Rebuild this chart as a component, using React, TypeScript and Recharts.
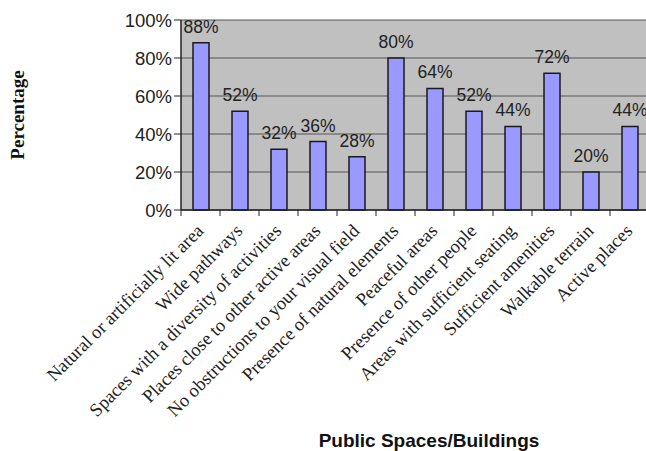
import React from "react";
import {
  BarChart,
  Bar,
  XAxis,
  YAxis,
  CartesianGrid,
  LabelList,
  Label,
} from "recharts";

const categories = [
  "Natural or artificially lit area",
  "Wide pathways",
  "Spaces with a diversity of activities",
  "Places close to other active areas",
  "No obstructions to your visual field",
  "Presence of natural elements",
  "Peaceful areas",
  "Presence of other people",
  "Areas with sufficient seating",
  "Sufficient amenities",
  "Walkable terrain",
  "Active places",
];

const percentages = [88, 52, 32, 36, 28, 80, 64, 52, 44, 72, 20, 44];

const yTicks = [0, 20, 40, 60, 80, 100];

const data = categories.map((name, i) => ({ name, value: percentages[i] }));

const SERIF = "'Liberation Serif', 'Times New Roman', serif";
const SANS = "'Liberation Sans', Arial, sans-serif";

function CategoryTick(props: any) {
  const { x, y, payload, index } = props;
  const half = payload?.offset ?? 19.5;
  const last = index === categories.length - 1;
  return (
    <g>
      <line x1={x - half} y1={y - 8} x2={x - half} y2={y - 2} stroke="#222" />
      {last && (
        <line x1={x + half} y1={y - 8} x2={x + half} y2={y - 2} stroke="#222" />
      )}
      <text
        x={x + 4}
        y={y + 14}
        textAnchor="end"
        fontFamily={SERIF}
        fontSize={18.5}
        fill="#222"
        transform={`rotate(-45, ${x + 4}, ${y + 14})`}
      >
        {payload.value}
      </text>
    </g>
  );
}

function YTitle(props: any) {
  const vb = props.viewBox || {};
  const cx = 20;
  const cy = (vb.y ?? 20) + (vb.height ?? 190) / 2;
  return (
    <text
      x={cx}
      y={cy}
      textAnchor="middle"
      dominantBaseline="middle"
      fontFamily={SERIF}
      fontWeight="bold"
      fontSize={19}
      fill="#111"
      transform={`rotate(-90, ${cx}, ${cy})`}
    >
      Percentage
    </text>
  );
}

export default function App() {
  return (
    <div
      style={{
        position: "absolute",
        left: 0,
        top: 0,
        width: 646,
        height: 451,
        overflow: "hidden",
        background: "#fff",
      }}
    >
      <BarChart
        width={649}
        height={451}
        data={data}
        margin={{ top: 20, right: 0, bottom: 0, left: 0 }}
        barCategoryGap={0}
      >
        <CartesianGrid
          vertical={false}
          fill="#c0c0c0"
          stroke="#555"
          strokeWidth={1.2}
        />
        <XAxis
          dataKey="name"
          height={241}
          interval={0}
          tickLine={false}
          axisLine={{ stroke: "#222", strokeWidth: 1.5 }}
          tick={<CategoryTick />}
        >
          <Label
            value="Public Spaces/Buildings"
            position="insideBottom"
            offset={4}
            dx={14}
            style={{
              fontFamily: SANS,
              fontWeight: "bold",
              fontSize: 19,
              fill: "#111",
            }}
          />
        </XAxis>
        <YAxis
          width={181}
          domain={[0, 100]}
          ticks={yTicks}
          interval={0}
          tickFormatter={(v) => `${v}%`}
          tickSize={7}
          tickLine={{ stroke: "#222" }}
          axisLine={{ stroke: "#222", strokeWidth: 1.5 }}
          tick={{ fontFamily: SANS, fontSize: 18.5, fill: "#222" }}
        >
          <Label content={<YTitle />} />
        </YAxis>
        <Bar
          dataKey="value"
          fill="#9999ff"
          stroke="#1a1a1a"
          strokeWidth={1.5}
          barSize={16}
          isAnimationActive={false}
        >
          <LabelList
            dataKey="value"
            position="top"
            offset={10}
            formatter={(v: any) => `${v}%`}
            style={{ fontFamily: SANS, fontSize: 17.5, fill: "#222" }}
          />
        </Bar>
      </BarChart>
    </div>
  );
}
